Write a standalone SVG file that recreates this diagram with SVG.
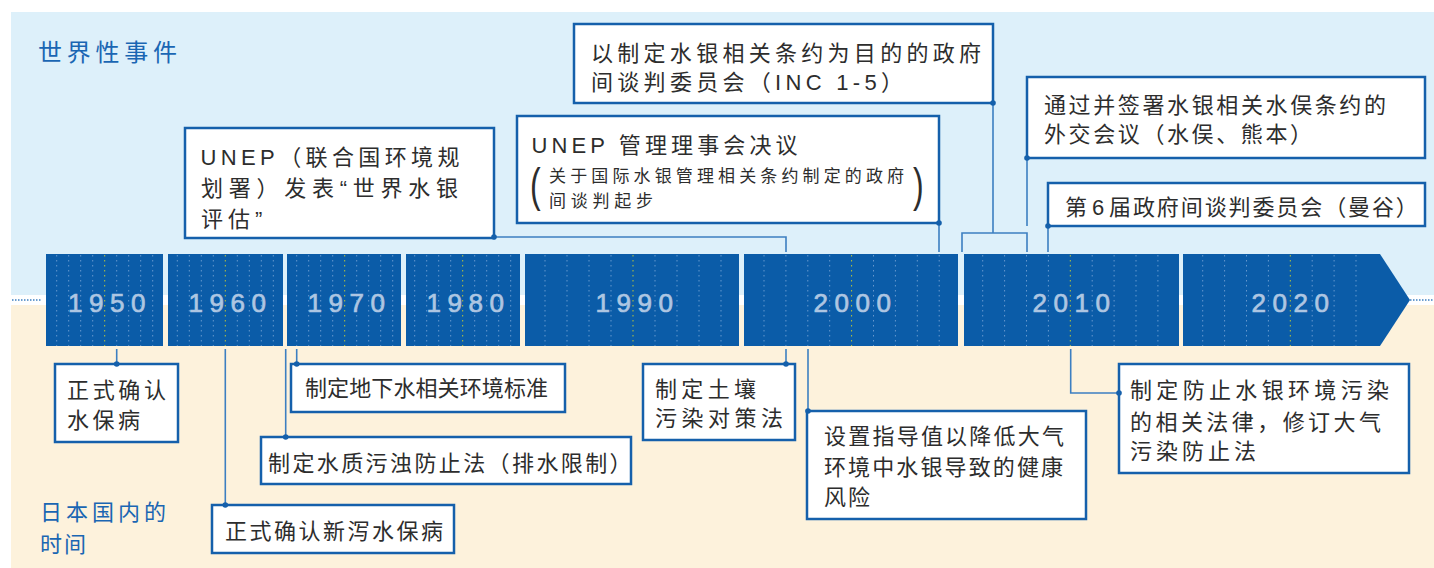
<svg xmlns="http://www.w3.org/2000/svg" width="1434" height="568" viewBox="0 0 1434 568">
<style>
.t{font-family:"Liberation Sans","Noto Sans CJK SC",sans-serif;font-size:22px;fill:#2d2d2d}
.s{font-family:"Liberation Sans","Noto Sans CJK SC",sans-serif;font-size:17px;fill:#2d2d2d}
.lab{font-family:"Noto Sans CJK SC",sans-serif;fill:#1a66b3}
.yr{font-family:"Liberation Sans",sans-serif;font-size:26px;fill:#aec6e2;stroke:#aec6e2;stroke-width:0.7;letter-spacing:6.5px;text-anchor:middle}
.box{fill:#fff;stroke:#1560ab;stroke-width:2.5}
.seg{fill:#0b5ca8}
.tick{stroke:#7ea8d8;stroke-width:1;stroke-dasharray:1.5 3.5;opacity:0.8}
.tickY{stroke:#b9c43a;stroke-width:1;stroke-dasharray:1.5 3.5}
.ln{fill:none;stroke:#3c7fc1;stroke-width:1.6}
.dot{fill:#1560ab}
.paren{font-family:"Liberation Sans",sans-serif;font-size:32px;fill:#2d2d2d}
</style>
<g id="background">
<rect x="11" y="12" width="1423" height="283" fill="#ddf0fa"/>
<rect x="11" y="305" width="1423" height="263" fill="#fdf2dc"/>
<line x1="12" y1="300" x2="42" y2="300" stroke="#3c7fc1" stroke-width="1.5" stroke-dasharray="1.5 1.5"/>
<line x1="1410" y1="300" x2="1434" y2="300" stroke="#3c7fc1" stroke-width="1.5" stroke-dasharray="1.5 1.5"/>
</g>
<g id="labels">
<text class="lab" x="38" y="61" font-size="24" textLength="139" lengthAdjust="spacing">世界性事件</text>
<text class="lab" x="40" y="520" font-size="22" textLength="126" lengthAdjust="spacing">日本国内的</text>
<text class="lab" x="40" y="552" font-size="22" textLength="46" lengthAdjust="spacing">时间</text>
</g>
<g id="timeline">
<rect class="seg" x="46" y="254" width="117" height="92"/>
<rect class="seg" x="168" y="254" width="115" height="92"/>
<rect class="seg" x="287" y="254" width="114" height="92"/>
<rect class="seg" x="406" y="254" width="114" height="92"/>
<rect class="seg" x="525" y="254" width="214" height="92"/>
<rect class="seg" x="744" y="254" width="214" height="92"/>
<rect class="seg" x="964" y="254" width="215" height="92"/>
<path class="seg" d="M1183,254 H1380 L1410,300 L1380,346 H1183 Z"/>
<path class="tick" d="M56.7,255V346M68.7,255V346M80.7,255V346M92.7,255V346M116.7,255V346M128.7,255V346M140.7,255V346M152.7,255V346
M177.3,255V346M189.3,255V346M201.3,255V346M213.3,255V346M237.3,255V346M249.3,255V346M261.3,255V346M273.3,255V346
M296.7,255V346M308.7,255V346M320.7,255V346M332.7,255V346M356.7,255V346M368.7,255V346M380.7,255V346M392.7,255V346
M414.7,255V346M426.7,255V346M438.7,255V346M450.7,255V346M474.7,255V346M486.7,255V346M498.7,255V346M510.7,255V346
M545,255V346M567,255V346M589,255V346M611,255V346M655,255V346M677,255V346M699,255V346M721,255V346
M764,255V346M785.9,255V346M807.8,255V346M829.7,255V346M873.5,255V346M895.4,255V346M917.3,255V346M939.2,255V346
M982.7,255V346M1004.6,255V346M1026.5,255V346M1048.4,255V346M1092.2,255V346M1114.1,255V346M1136,255V346M1157.9,255V346
M1202.7,255V346M1224.6,255V346M1246.5,255V346M1268.4,255V346M1312.2,255V346M1334.1,255V346M1356,255V346"/>
<path class="tickY" d="M104.7,255V346M225.3,255V346M344.7,255V346M462.7,255V346M633,255V346M851.6,255V346M1070.3,255V346M1290.3,255V346"/>
<text class="yr" x="110" y="312">1950</text>
<text class="yr" x="230.5" y="312">1960</text>
<text class="yr" x="349.5" y="312">1970</text>
<text class="yr" x="468.5" y="312">1980</text>
<text class="yr" x="637.5" y="312">1990</text>
<text class="yr" x="855.5" y="312">2000</text>
<text class="yr" x="1074.5" y="312">2010</text>
<text class="yr" x="1293.5" y="312">2020</text>
</g>
<g id="connectors">
<path class="ln" d="M494,237 H786 V252"/>
<path class="ln" d="M939,223 V252"/>
<path class="ln" d="M993,103 V233"/>
<path class="ln" d="M962,252 V233 H1027 V252"/>
<path class="ln" d="M1027,158 V226"/>
<path class="ln" d="M1048,226 V252"/>
<path class="ln" d="M116.7,349 V364"/>
<path class="ln" d="M225.3,349 V505"/>
<path class="ln" d="M285.7,349 V437"/>
<path class="ln" d="M296.7,349 V364"/>
<path class="ln" d="M786,349 V364"/>
<path class="ln" d="M808,349 V411"/>
<path class="ln" d="M1070.7,349 V393 H1119"/>
</g>
<g id="node-unep-assessment">
<rect class="box" x="185" y="128" width="309" height="110"/>
<text class="t" x="200.5" y="165" textLength="259" lengthAdjust="spacing">UNEP（联合国环境规</text>
<text class="t" x="201" y="196" textLength="257" lengthAdjust="spacing">划署）发表“世界水银</text>
<text class="t" x="201" y="227" letter-spacing="5">评估”</text>
<circle class="dot" cx="494" cy="237" r="2.8"/>
</g>
<g id="node-unep-decision">
<rect class="box" x="517" y="116" width="422" height="107"/>
<text class="t" x="531.5" y="153" textLength="266" lengthAdjust="spacing">UNEP 管理理事会决议</text>
<text class="paren" transform="translate(530,201) scale(1,1.45)">(</text>
<text class="s" x="549" y="182" textLength="355" lengthAdjust="spacing">关于国际水银管理相关条约制定的政府</text>
<text class="s" x="549" y="207" textLength="104" lengthAdjust="spacing">间谈判起步</text>
<text class="paren" transform="translate(913,201) scale(1,1.45)">)</text>
<circle class="dot" cx="939" cy="223" r="2.8"/>
</g>
<g id="node-inc">
<rect class="box" x="574" y="24" width="419" height="79"/>
<text class="t" x="591" y="61" textLength="390" lengthAdjust="spacing">以制定水银相关条约为目的的政府</text>
<text class="t" x="591" y="90" letter-spacing="4.3">间谈判委员会（INC 1-5）</text>
<circle class="dot" cx="993" cy="103" r="2.8"/>
</g>
<g id="node-minamata-conference">
<rect class="box" x="1027" y="77" width="398" height="81"/>
<text class="t" x="1044" y="113" textLength="342" lengthAdjust="spacing">通过并签署水银相关水俣条约的</text>
<text class="t" x="1044" y="142" letter-spacing="2.6">外交会议（水俣、熊本）</text>
<circle class="dot" cx="1027" cy="158" r="2.8"/>
</g>
<g id="node-inc6">
<rect class="box" x="1048" y="183" width="377" height="43"/>
<text class="t" x="1065" y="215" letter-spacing="1.9">第<tspan dx="3">6</tspan><tspan dx="3">届政府间谈判委员会（曼谷）</tspan></text>
<circle class="dot" cx="1048" cy="226" r="2.8"/>
</g>
<g id="node-minamata-disease">
<rect class="box" x="55" y="364" width="123" height="78"/>
<text class="t" x="67" y="398" textLength="99" lengthAdjust="spacing">正式确认</text>
<text class="t" x="67" y="428" textLength="73" lengthAdjust="spacing">水保病</text>
<circle class="dot" cx="116.7" cy="364" r="2.8"/>
</g>
<g id="node-niigata">
<rect class="box" x="212" y="505" width="242" height="48"/>
<text class="t" x="225" y="539" textLength="218" lengthAdjust="spacing">正式确认新泻水保病</text>
<circle class="dot" cx="225.3" cy="505" r="2.8"/>
</g>
<g id="node-water-pollution">
<rect class="box" x="261" y="437" width="370" height="47"/>
<text class="t" x="268" y="471" letter-spacing="2.4">制定水质污浊防止法（排水限制）</text>
<circle class="dot" cx="285.7" cy="437" r="2.8"/>
</g>
<g id="node-groundwater">
<rect class="box" x="291" y="364" width="274" height="48"/>
<text class="t" x="305" y="396" textLength="243" lengthAdjust="spacing">制定地下水相关环境标准</text>
<circle class="dot" cx="296.7" cy="364" r="2.8"/>
</g>
<g id="node-soil">
<rect class="box" x="643" y="364" width="152" height="76"/>
<text class="t" x="655" y="397" textLength="101" lengthAdjust="spacing">制定土壤</text>
<text class="t" x="655" y="426" textLength="128" lengthAdjust="spacing">污染对策法</text>
<circle class="dot" cx="786" cy="364" r="2.8"/>
</g>
<g id="node-guideline">
<rect class="box" x="807" y="411" width="279" height="108"/>
<text class="t" x="824" y="444" textLength="240" lengthAdjust="spacing">设置指导值以降低大气</text>
<text class="t" x="824" y="475" textLength="239" lengthAdjust="spacing">环境中水银导致的健康</text>
<text class="t" x="824" y="505" textLength="46" lengthAdjust="spacing">风险</text>
<circle class="dot" cx="808" cy="411" r="2.8"/>
</g>
<g id="node-mercury-law">
<rect class="box" x="1119" y="364" width="290" height="109"/>
<text class="t" x="1130" y="398" textLength="259" lengthAdjust="spacing">制定防止水银环境污染</text>
<text class="t" x="1130" y="430" textLength="251" lengthAdjust="spacing">的相关法律，修订大气</text>
<text class="t" x="1130" y="459" textLength="126" lengthAdjust="spacing">污染防止法</text>
<circle class="dot" cx="1119" cy="393" r="2.8"/>
</g>
</svg>
